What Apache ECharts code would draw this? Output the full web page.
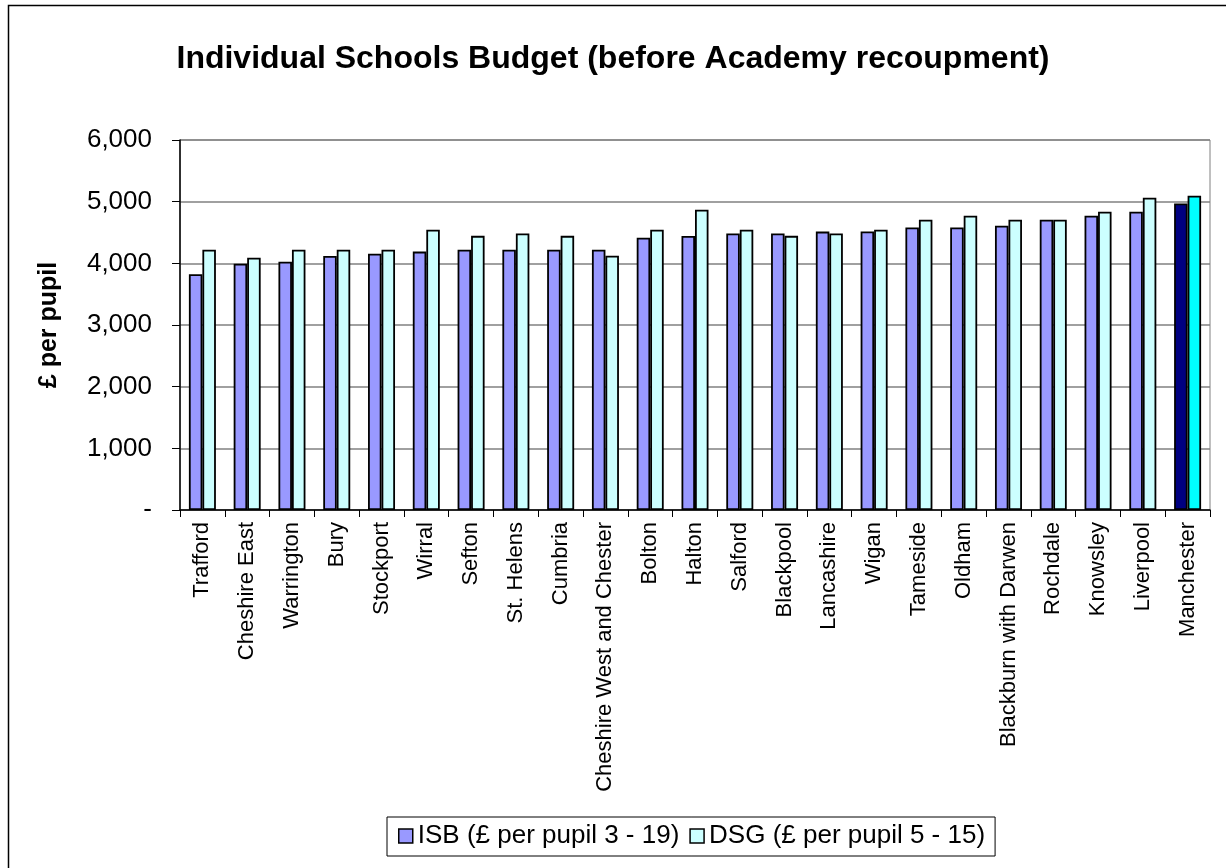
<!DOCTYPE html>
<html>
<head>
<meta charset="utf-8">
<style>
  html, body { margin: 0; padding: 0; background: #fff; }
  #chart { width: 1226px; height: 868px; }
</style>
<script src="https://cdn.jsdelivr.net/npm/echarts@6/dist/echarts.min.js"></script>
</head>
<body>
<div id="chart"></div>
<script>
// Local authorities, ordered by ISB per pupil
const authorities = [
  'Trafford', 'Cheshire East', 'Warrington', 'Bury', 'Stockport', 'Wirral',
  'Sefton', 'St. Helens', 'Cumbria', 'Cheshire West and Chester', 'Bolton',
  'Halton', 'Salford', 'Blackpool', 'Lancashire', 'Wigan', 'Tameside',
  'Oldham', 'Blackburn with Darwen', 'Rochdale', 'Knowsley', 'Liverpool',
  'Manchester'
];

// Individual Schools Budget, £ per pupil aged 3 - 19
const isbPerPupil = [
  3825, 3995, 4025, 4120, 4155, 4190,
  4220, 4220, 4220, 4220, 4415,
  4445, 4485, 4485, 4515, 4517, 4583,
  4583, 4610, 4706, 4771, 4836,
  4972
];

// Dedicated Schools Grant, £ per pupil aged 5 - 15
const dsgPerPupil = [
  4220, 4090, 4220, 4220, 4220, 4545,
  4446, 4485, 4446, 4122, 4545,
  4869, 4545, 4446, 4485, 4545, 4706,
  4771, 4706, 4706, 4836, 5063,
  5096
];

const yTicks = { min: 0, max: 6000, step: 1000 };

const seriesNames = ['ISB (£ per pupil 3 - 19)', 'DSG (£ per pupil 5 - 15)'];
const highlighted = 'Manchester';

const palette = {
  isb: '#9999FF', dsg: '#CCFFFF',
  isbHi: '#000080', dsgHi: '#00FFFF'
};

const font = '"Liberation Sans", Arial, sans-serif';

function barData(values, normal, hi) {
  return values.map((v, i) => authorities[i] === highlighted
    ? { value: v, itemStyle: { color: hi } }
    : { value: v, itemStyle: { color: normal } });
}

const chart = echarts.init(document.getElementById('chart'), null, { renderer: 'canvas' });

chart.setOption({
  animation: false,
  backgroundColor: '#ffffff',
  textStyle: { fontFamily: font, color: '#000' },
  title: {
    text: 'Individual Schools Budget (before Academy recoupment)',
    left: 'center',
    top: 38,
    textStyle: { fontFamily: font, fontSize: 32, fontWeight: 'bold', color: '#000' }
  },
  graphic: [{
    type: 'rect',
    shape: { x: 8.5, y: 5.5, width: 1400, height: 1000 },
    style: { fill: 'none', stroke: '#000', lineWidth: 1.5 },
    silent: true
  }],
  legend: {
    left: 387,
    top: 817,
    orient: 'horizontal',
    itemGap: 10,
    itemWidth: 14,
    itemHeight: 14,
    padding: [6, 10, 7, 11],
    borderColor: '#000',
    borderWidth: 1,
    icon: 'rect',
    textStyle: { fontFamily: font, fontSize: 26, color: '#000' },
    data: [
      { name: seriesNames[0], itemStyle: { color: palette.isb, borderColor: '#000', borderWidth: 1.5 } },
      { name: seriesNames[1], itemStyle: { color: palette.dsg, borderColor: '#000', borderWidth: 1.5 } }
    ]
  },
  grid: {
    left: 180, right: 16, top: 140, bottom: 358,
    show: true, borderColor: '#808080', borderWidth: 1
  },
  xAxis: {
    type: 'category',
    data: authorities,
    axisLine: { lineStyle: { color: '#000', width: 1.5 } },
    axisTick: { show: true, length: 7, lineStyle: { color: '#000' } },
    axisLabel: {
      rotate: 90,
      interval: 0,
      margin: 12,
      fontFamily: font,
      fontSize: 22,
      color: '#000'
    }
  },
  yAxis: {
    type: 'value',
    min: yTicks.min,
    max: yTicks.max,
    interval: yTicks.step,
    name: '£ per pupil',
    nameLocation: 'middle',
    nameGap: 118,
    nameRotate: 90,
    nameTextStyle: { fontFamily: font, fontSize: 25, fontWeight: 'bold', color: '#000' },
    axisLine: { show: true, lineStyle: { color: '#000', width: 1.5 } },
    axisTick: { show: true, length: 8, lineStyle: { color: '#000' } },
    splitLine: { show: true, lineStyle: { color: '#808080', width: 1.5 } },
    axisLabel: {
      margin: 28,
      fontFamily: font,
      fontSize: 26,
      color: '#000',
      formatter: v => v === 0 ? '-' : v.toLocaleString('en-GB')
    }
  },
  series: [
    {
      name: seriesNames[0],
      type: 'bar',
      barWidth: 13.5,
      barGap: '0%',
      itemStyle: { color: palette.isb, borderColor: '#000', borderWidth: 1.8 },
      data: barData(isbPerPupil, palette.isb, palette.isbHi)
    },
    {
      name: seriesNames[1],
      type: 'bar',
      barWidth: 13.5,
      barGap: '0%',
      itemStyle: { color: palette.dsg, borderColor: '#000', borderWidth: 1.8 },
      data: barData(dsgPerPupil, palette.dsg, palette.dsgHi)
    }
  ]
});
</script>
</body>
</html>
